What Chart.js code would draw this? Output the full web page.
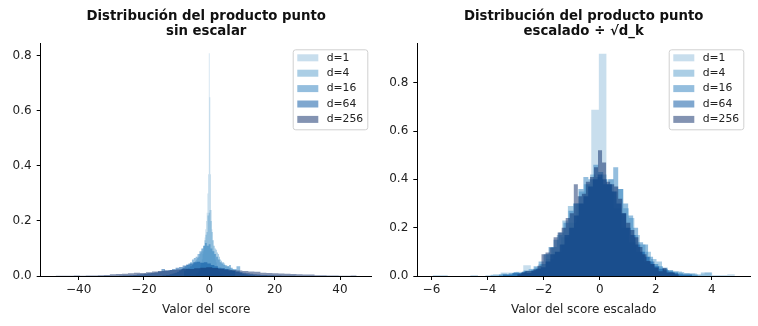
<!DOCTYPE html>
<html>
<head>
<meta charset="utf-8">
<script src="https://cdn.jsdelivr.net/npm/chart.js@4.4.1/dist/chart.umd.min.js"></script>
<style>
  html, body { margin: 0; padding: 0; background: #fff; }
  #wrap { position: relative; width: 758px; height: 326px; }
  .panel { position: absolute; top: 0; width: 379px; height: 326px; }
  #left { left: 0; }
  #right { left: 379px; }
</style>
</head>
<body>
<div id="wrap">
  <div class="panel" id="left"><canvas id="rawChart" width="379" height="326"></canvas></div>
  <div class="panel" id="right"><canvas id="scaledChart" width="379" height="326"></canvas></div>
</div>
<script>
const dims = ['d=1', 'd=4', 'd=16', 'd=64', 'd=256'];
const fills = [
  'rgba(145,189,219,0.5)',
  'rgba(87,157,203,0.5)',
  'rgba(41,125,189,0.5)',
  'rgba(0,79,159,0.5)',
  'rgba(7,39,101,0.5)'
];

// raw dot products: first and last bin edge per d, 50 bins each
const rawLo = [-5.96, -7.8, -14.4, -27.6, -47.0];
const rawHi = [4.82, 8.0, 14.0, 26.4, 45.1];
const rawD1 = [0.005, 0, 0, 0.005, 0, 0, 0.005, 0, 0.005, 0.01,
  0.01, 0.014, 0.02, 0.03, 0.02, 0.04, 0.05, 0.06, 0.08, 0.09,
  0.11, 0.14, 0.17, 0.2, 0.23, 0.3, 0.37, 0.81, 0.65, 0.37,
  0.24, 0.17, 0.13, 0.11, 0.09, 0.08, 0.06, 0.05, 0.04, 0.03,
  0.025, 0.02, 0.015, 0.01, 0.01, 0.005, 0.01, 0.005, 0, 0.005];
const rawD4 = [0.02, 0.02, 0.025, 0.025, 0.03, 0.03, 0.035, 0.035, 0.04, 0.045,
  0.05, 0.055, 0.06, 0.065, 0.07, 0.08, 0.085, 0.09, 0.1, 0.11,
  0.13, 0.15, 0.16, 0.22, 0.23, 0.24, 0.2, 0.16, 0.13, 0.11,
  0.1, 0.095, 0.085, 0.08, 0.07, 0.06, 0.055, 0.05, 0.05, 0.045,
  0.04, 0.04, 0.035, 0.035, 0.03, 0.03, 0.025, 0.025, 0.02, 0.02];
const rawD16 = [0.002, 0.002, 0.004, 0.004, 0.006, 0.008, 0.01, 0.012, 0.015, 0.02,
  0.025, 0.03, 0.035, 0.04, 0.045, 0.05, 0.06, 0.065, 0.07, 0.08,
  0.09, 0.1, 0.11, 0.12, 0.11, 0.115, 0.1, 0.09, 0.08, 0.07,
  0.06, 0.05, 0.045, 0.04, 0.035, 0.035, 0.04, 0.03, 0.025, 0.025,
  0.035, 0.035, 0.012, 0.008, 0.006, 0.005, 0.004, 0.003, 0.002, 0.002];
const rawD64 = [0.001, 0.002, 0.002, 0.003, 0.004, 0.005, 0.006, 0.008, 0.01, 0.011,
  0.013, 0.016, 0.025, 0.02, 0.022, 0.025, 0.03, 0.033, 0.038, 0.042,
  0.045, 0.05, 0.052, 0.048, 0.05, 0.045, 0.04, 0.035, 0.03, 0.028,
  0.025, 0.02, 0.018, 0.015, 0.014, 0.012, 0.01, 0.008, 0.006, 0.005,
  0.004, 0.004, 0.003, 0.003, 0.002, 0.002, 0.001, 0.001, 0.001, 0.001];
const rawD256 = [0.0005, 0.0005, 0.001, 0.002, 0.001, 0.002, 0.002, 0.003, 0.004, 0.006,
  0.007, 0.008, 0.01, 0.012, 0.011, 0.014, 0.016, 0.018, 0.02, 0.022,
  0.024, 0.026, 0.025, 0.028, 0.03, 0.032, 0.029, 0.026, 0.024, 0.022,
  0.02, 0.018, 0.016, 0.015, 0.012, 0.011, 0.01, 0.009, 0.008, 0.007,
  0.006, 0.005, 0.005, 0.003, 0.003, 0.002, 0.002, 0.001, 0.001, 0.002];

// scores divided by sqrt(d_k): first and last bin edge per d, 40 bins each
const sclLo = [-5.96, -3.9, -3.6, -3.45, -2.94];
const sclHi = [4.82, 4.0, 3.5, 3.3, 2.82];
const sclD1 = [0.004, 0.004, 0, 0, 0, 0.004, 0, 0.004, 0.007, 0.015,
  0.015, 0.018, 0.045, 0.03, 0.05, 0.07, 0.1, 0.16, 0.22, 0.3,
  0.38, 0.688, 0.92, 0.4, 0.28, 0.2, 0.14, 0.1, 0.06, 0.05,
  0.03, 0.022, 0.02, 0.012, 0.011, 0.007, 0.015, 0.004, 0.004, 0.007];
const sclD4 = [0.005, 0.005, 0.01, 0.005, 0.01, 0.015, 0.02, 0.02, 0.035, 0.05,
  0.09, 0.12, 0.17, 0.23, 0.29, 0.3, 0.35, 0.38, 0.42, 0.41,
  0.42, 0.38, 0.35, 0.36, 0.28, 0.24, 0.17, 0.13, 0.1, 0.07,
  0.06, 0.035, 0.025, 0.02, 0.017, 0.012, 0.01, 0.005, 0.015, 0.015];
const sclD16 = [0.006, 0.006, 0.011, 0.017, 0.011, 0.023, 0.028, 0.04, 0.06, 0.09,
  0.12, 0.15, 0.18, 0.22, 0.27, 0.3, 0.36, 0.41, 0.4, 0.46,
  0.43, 0.38, 0.4, 0.45, 0.36, 0.3, 0.25, 0.2, 0.14, 0.13,
  0.08, 0.05, 0.04, 0.03, 0.023, 0.017, 0.011, 0.006, 0.006, 0.006];
const sclD64 = [0.006, 0.006, 0.012, 0.012, 0.018, 0.012, 0.024, 0.03, 0.036, 0.06,
  0.09, 0.1, 0.13, 0.17, 0.2, 0.25, 0.3, 0.33, 0.37, 0.4,
  0.42, 0.4, 0.38, 0.35, 0.3, 0.26, 0.2, 0.17, 0.13, 0.1,
  0.08, 0.06, 0.04, 0.03, 0.024, 0.018, 0.012, 0.006, 0.006, 0.006];
const sclD256 = [0.007, 0.014, 0.021, 0.021, 0.028, 0.042, 0.09, 0.097, 0.118, 0.16,
  0.18, 0.2, 0.24, 0.26, 0.38, 0.33, 0.34, 0.39, 0.41, 0.45,
  0.52, 0.47, 0.39, 0.38, 0.37, 0.32, 0.26, 0.22, 0.19, 0.16,
  0.12, 0.09, 0.062, 0.05, 0.035, 0.02, 0.033, 0.014, 0.014, 0.007];

const yTicks = [0, 0.2, 0.4, 0.6, 0.8];
const rawXTicks = [-40, -20, 0, 20, 40];
const sclXTicks = [-6, -4, -2, 0, 2, 4];

const FONT = 'DejaVu Sans';
const INK = '#222';

// histogram outline as step points: bin left edges, then close at the last edge
function histPoints(lo, hi, heights) {
  const w = (hi - lo) / heights.length;
  const pts = [{ x: lo, y: 0 }];
  heights.forEach((h, i) => pts.push({ x: lo + i * w, y: h }));
  pts.push({ x: hi, y: 0 });
  return pts;
}

function histDatasets(lo, hi, series) {
  return series.map((heights, i) => ({
    label: dims[i],
    data: histPoints(lo[i], hi[i], heights),
    stepped: 'before',
    fill: 'origin',
    backgroundColor: fills[i],
    borderColor: 'rgba(0,0,0,0)',
    borderWidth: 0,
    pointRadius: 0,
    order: series.length - i
  }));
}

const minus = v => (v < 0 ? '\u2212' + Math.abs(v) : String(v));

// axes title drawn over the plot area, two lines
const panelTitle = {
  id: 'panelTitle',
  afterDraw(chart, args, opts) {
    const { ctx, chartArea } = chart;
    const cx = (chartArea.left + chartArea.right) / 2;
    ctx.save();
    ctx.font = 'bold 13.3px "' + FONT + '"';
    ctx.fillStyle = '#111';
    ctx.textAlign = 'center';
    ctx.textBaseline = 'middle';
    opts.lines.forEach((t, i) => ctx.fillText(t, cx, 17 + i * 15));
    ctx.restore();
  }
};

// framed legend in the upper right corner of the plot area
const boxLegend = {
  id: 'boxLegend',
  afterDraw(chart, args, opts) {
    const { ctx, chartArea } = chart;
    const w = 74.6, h = 80;
    const x0 = chartArea.right - opts.inset - w;
    const y0 = chartArea.top + 6;
    ctx.save();
    ctx.beginPath();
    ctx.roundRect(x0 + 0.5, y0 + 0.5, w, h, 2.5);
    ctx.fillStyle = 'rgba(255,255,255,0.8)';
    ctx.fill();
    ctx.strokeStyle = '#d0d0d0';
    ctx.lineWidth = 1;
    ctx.stroke();
    ctx.font = '10.8px "' + FONT + '"';
    ctx.textBaseline = 'middle';
    chart.data.datasets.forEach((ds, i) => {
      const cy = y0 + 8.5 + i * 15.4;
      ctx.fillStyle = ds.backgroundColor;
      ctx.fillRect(x0 + 4.6, cy - 3.5, 21, 7);
      ctx.fillStyle = INK;
      ctx.fillText(ds.label, x0 + 34, cy);
    });
    ctx.restore();
  }
};

function makeChart(canvasId, opts) {
  const ctx = document.getElementById(canvasId).getContext('2d');
  return new Chart(ctx, {
    type: 'line',
    data: { datasets: opts.datasets },
    options: {
      responsive: false,
      animation: false,
      events: [],
      layout: { padding: { top: 43.3, right: opts.padRight, bottom: 0, left: 0 } },
      elements: { line: { tension: 0 } },
      plugins: {
        legend: { display: false },
        tooltip: { enabled: false },
        panelTitle: { lines: opts.title },
        boxLegend: { inset: opts.legendInset }
      },
      scales: {
        x: {
          type: 'linear',
          min: opts.xMin,
          max: opts.xMax,
          afterBuildTicks: s => { s.ticks = opts.xTicks.map(v => ({ value: v })); },
          afterFit: s => { s.height = 50; },
          grid: { drawOnChartArea: false, drawTicks: true, tickLength: 4, tickWidth: 1, color: '#000' },
          border: { display: true, color: '#000', width: 1 },
          ticks: {
            color: INK, padding: 3, maxRotation: 0, autoSkip: false,
            font: { family: FONT, size: 12 },
            callback: v => minus(v)
          },
          title: {
            display: true, text: opts.xTitle, color: INK,
            font: { family: FONT, size: 12 },
            padding: { top: 0, bottom: 8.8 }
          }
        },
        y: {
          type: 'linear',
          min: 0,
          max: opts.yMax,
          afterBuildTicks: s => { s.ticks = yTicks.map(v => ({ value: v })); },
          afterFit: s => { s.width = opts.yWidth; },
          grid: { drawOnChartArea: false, drawTicks: true, tickLength: 4, tickWidth: 1, color: '#000' },
          border: { display: true, color: '#000', width: 1 },
          ticks: {
            color: INK, padding: 5,
            font: { family: FONT, size: 12 },
            callback: v => v.toFixed(1)
          }
        }
      }
    },
    plugins: [panelTitle, boxLegend]
  });
}

makeChart('rawChart', {
  datasets: histDatasets(rawLo, rawHi, [rawD1, rawD4, rawD16, rawD64, rawD256]),
  title: ['Distribución del producto punto', 'sin escalar'],
  xTitle: 'Valor del score',
  xMin: -51.6, xMax: 49.7, xTicks: rawXTicks,
  yMax: 0.846,
  yWidth: 40.7, padRight: 7.3, legendInset: 4.4
});

makeChart('scaledChart', {
  datasets: histDatasets(sclLo, sclHi, [sclD1, sclD4, sclD16, sclD64, sclD256]),
  title: ['Distribución del producto punto', 'escalado ÷ √d_k'],
  xTitle: 'Valor del score escalado',
  xMin: -6.505, xMax: 5.36, xTicks: sclXTicks,
  yMax: 0.963,
  yWidth: 38.3, padRight: 8, legendInset: 6.7
});
</script>
</body>
</html>
